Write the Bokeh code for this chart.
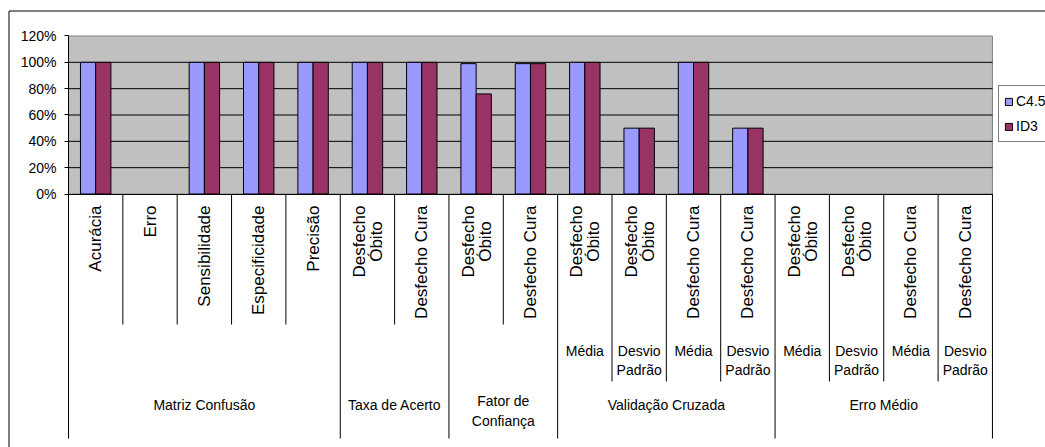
import math
from bokeh.plotting import figure
from bokeh.models import (Range1d, LinearAxis, FixedTicker, NumeralTickFormatter,
                          ColumnDataSource, Legend, LegendItem, CDSView, BooleanFilter)
from bokeh.transform import dodge
from bokeh.core.properties import value
from bokeh.embed import file_html
from bokeh.resources import INLINE

# ---------------- data ----------------
leaf_labels = ["Acurácia", "Erro", "Sensibilidade", "Especificidade", "Precisão",
               "Desfecho\nÓbito", "Desfecho Cura",
               "Desfecho\nÓbito", "Desfecho Cura",
               "Desfecho\nÓbito", "Desfecho\nÓbito", "Desfecho Cura", "Desfecho Cura",
               "Desfecho\nÓbito", "Desfecho\nÓbito", "Desfecho Cura", "Desfecho Cura"]
mid_labels = ["", "", "", "", "", "", "", "", "",
              "Média", "Desvio\nPadrão", "Média", "Desvio\nPadrão",
              "Média", "Desvio\nPadrão", "Média", "Desvio\nPadrão"]
group_labels = ["Matriz Confusão", "Taxa de Acerto", "Fator de\nConfiança",
                "Validação Cruzada", "Erro Médio"]
group_sizes = [5, 2, 2, 4, 4]
series_names = ["C4.5", "ID3"]
c45_values = [1.00, 0.00, 1.00, 1.00, 1.00, 1.00, 1.00, 0.99, 0.99,
              1.00, 0.50, 1.00, 0.50, 0.00, 0.00, 0.00, 0.00]
id3_values = [1.00, 0.00, 1.00, 1.00, 1.00, 1.00, 1.00, 0.76, 0.99,
              1.00, 0.50, 1.00, 0.50, 0.00, 0.00, 0.00, 0.00]
y_ticks = [0.0, 0.2, 0.4, 0.6, 0.8, 1.0, 1.2]

# ---------------- layout helpers (pixels -> data) ----------------
W, H = 1045, 447
X0, CW = 68.0, 54.35      # left edge of plot area, px per category
Y0, YU = 193.5, 131.67    # pixel of 0 %, px per 100 %
n = len(leaf_labels)


def xd(px):
    return (px - X0) / CW


def yd(py):
    return (Y0 - py) / YU


def dx(px):
    return px / CW


FONT = "Liberation Sans"
FS_H = "14px"   # horizontal texts
FS_R = "17px"   # rotated category texts

p = figure(width=W, height=H,
           x_range=Range1d(xd(0), xd(W)), y_range=Range1d(yd(H), yd(0)),
           x_axis_type=None, y_axis_type=None,
           output_backend="svg", toolbar_location=None, min_border=0,
           outline_line_color=None, background_fill_color="white",
           border_fill_color="white")

# outer chart border (left and top visible)
p.segment(x0=[xd(8.5), xd(8.5)], y0=[yd(10.5), yd(10.5)],
          x1=[xd(8.5), xd(W)], y1=[yd(H), yd(10.5)],
          line_color="black", line_width=1)

# plot area
p.quad(left=[0], right=[n], bottom=[y_ticks[0]], top=[y_ticks[-1]],
       fill_color="#C0C0C0", line_color="#808080", line_width=1)

# gridlines
grid_vals = y_ticks[1:-1]
p.segment(x0=[0] * len(grid_vals), x1=[n] * len(grid_vals),
          y0=grid_vals, y1=grid_vals, line_color="black", line_width=1)

# bars (zero-valued bars are not drawn, as in the reference)
src = ColumnDataSource(dict(x=[i + 0.5 for i in range(n)],
                            c45=c45_values, id3=id3_values))
view1 = CDSView(filter=BooleanFilter([v > 0 for v in c45_values]))
view2 = CDSView(filter=BooleanFilter([v > 0 for v in id3_values]))
r1 = p.vbar(x=dodge("x", -0.14), top="c45", width=0.28, source=src, view=view1,
            fill_color="#9999FF", line_color="black", line_width=1)
r2 = p.vbar(x=dodge("x", 0.14), top="id3", width=0.28, source=src, view=view2,
            fill_color="#993366", line_color="black", line_width=1)

# axes
yax = LinearAxis(fixed_location=0, bounds=(y_ticks[0], y_ticks[-1]),
                 ticker=FixedTicker(ticks=y_ticks),
                 formatter=NumeralTickFormatter(format="0%"))
yax.major_tick_out = 4
yax.major_tick_in = 0
yax.minor_tick_out = 0
yax.minor_tick_in = 0
yax.axis_line_color = "black"
yax.major_tick_line_color = "black"
yax.major_label_standoff = 8
yax.major_label_text_font = FONT
yax.major_label_text_font_size = FS_H
yax.major_label_text_color = "black"
p.add_layout(yax, "left")

xax = LinearAxis(fixed_location=0, bounds=(0, n), ticker=FixedTicker(ticks=[]))
xax.major_tick_out = 0
xax.major_tick_in = 0
xax.minor_tick_out = 0
xax.minor_tick_in = 0
xax.axis_line_color = "black"
xax.major_label_text_color = None
p.add_layout(xax, "below")

# category dividers
group_bounds = [0]
for s in group_sizes:
    group_bounds.append(group_bounds[-1] + s)
dx0, dy1 = [], []
for b in range(n + 1):
    if b in group_bounds:
        end = 438
    elif mid_labels[b - 1] or mid_labels[b]:
        end = 381
    else:
        end = 324
    dx0.append(b)
    dy1.append(yd(end))
p.segment(x0=dx0, x1=dx0, y0=[0] * len(dx0), y1=dy1,
          line_color="black", line_width=1)

# leaf labels (rotated)
single = dict(x=[], y=[], text=[])
double = dict(x=[], y=[], text=[])
for i, lab in enumerate(leaf_labels):
    parts = lab.split("\n")
    if len(parts) == 1:
        single["x"].append(i + 0.5)
        single["y"].append(yd(205))
        single["text"].append(lab)
    else:
        for k, part in enumerate(parts):
            double["x"].append(i + 0.5 + dx(-8 + 17 * k))
            double["y"].append(yd(241))
            double["text"].append(part)
p.text(x="x", y="y", text="text", source=ColumnDataSource(single),
       angle=math.pi / 2, text_align="right", text_baseline="middle",
       text_font=value(FONT), text_font_size=FS_R, text_color="black")
p.text(x="x", y="y", text="text", source=ColumnDataSource(double),
       angle=math.pi / 2, text_align="center", text_baseline="middle",
       text_font=value(FONT), text_font_size=FS_R, text_color="black")

# middle level labels
mid = dict(x=[], y=[], text=[])
for i, lab in enumerate(mid_labels):
    if not lab:
        continue
    for k, part in enumerate(lab.split("\n")):
        mid["x"].append(i + 0.5)
        mid["y"].append(yd(350 + 19 * k))
        mid["text"].append(part)
p.text(x="x", y="y", text="text", source=ColumnDataSource(mid),
       text_align="center", text_baseline="middle",
       text_font=value(FONT), text_font_size=FS_H, text_color="black")

# group labels
grp = dict(x=[], y=[], text=[])
for g, lab in enumerate(group_labels):
    cx = (group_bounds[g] + group_bounds[g + 1]) / 2
    parts = lab.split("\n")
    if len(parts) == 1:
        grp["x"].append(cx)
        grp["y"].append(yd(404))
        grp["text"].append(lab)
    else:
        for k, part in enumerate(parts):
            grp["x"].append(cx)
            grp["y"].append(yd(400 + 20 * k))
            grp["text"].append(part)
p.text(x="x", y="y", text="text", source=ColumnDataSource(grp),
       text_align="center", text_baseline="middle",
       text_font=value(FONT), text_font_size=FS_H, text_color="black")

# legend
legend = Legend(items=[LegendItem(label=series_names[0], renderers=[r1]),
                       LegendItem(label=series_names[1], renderers=[r2])],
                location=(998, H - 142), orientation="vertical")
legend.margin = 0
legend.padding = 5
legend.spacing = 5
legend.glyph_width = 9
legend.glyph_height = 9
legend.label_height = 20
legend.label_standoff = 3
legend.label_text_font = FONT
legend.label_text_font_size = FS_H
legend.label_text_color = "black"
legend.border_line_color = "black"
legend.border_line_width = 1
legend.background_fill_color = "white"
legend.background_fill_alpha = 1
p.add_layout(legend, "center")

open("out.html", "w").write(file_html(p, INLINE))
